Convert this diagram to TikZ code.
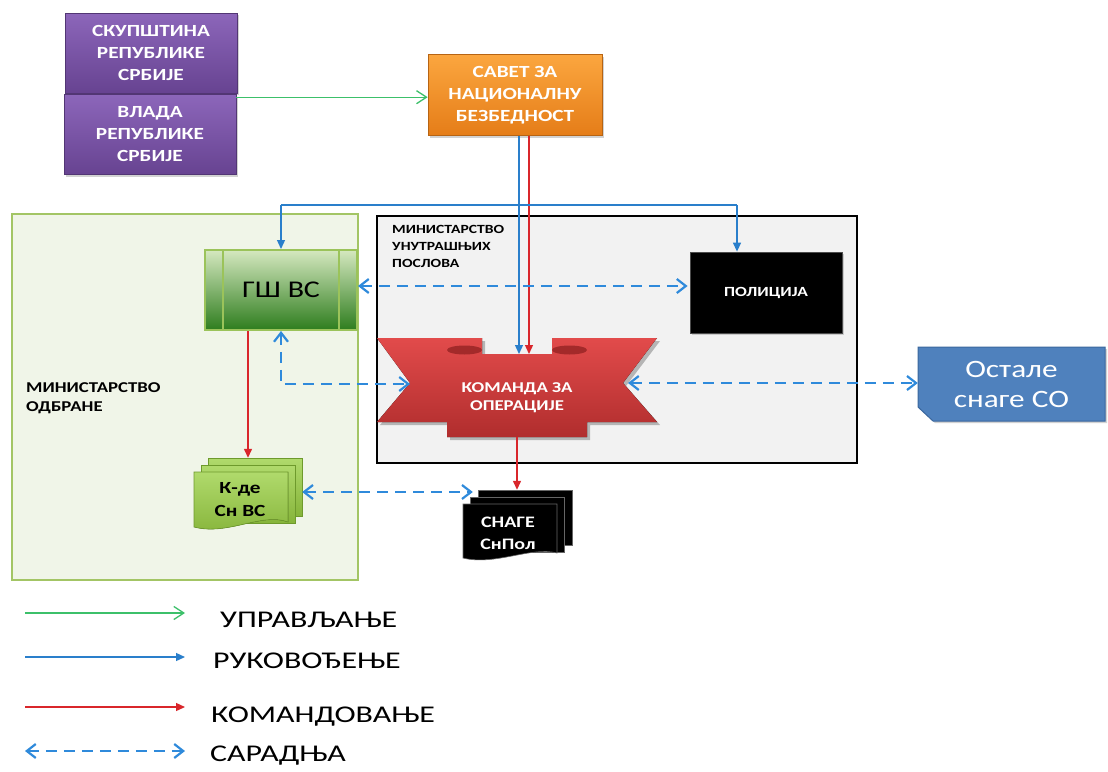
\documentclass[tikz,border=0pt]{standalone}
\usepackage{fontspec}
\setmainfont{Carlito}[FakeStretch=1.25]
\newfontfamily\legfont{Carlito}[FakeStretch=1.33]
\usetikzlibrary{arrows.meta,shadows,calc}
\definecolor{cgreen}{HTML}{3CC06A}
\definecolor{cblue}{HTML}{2A7FCB}
\definecolor{cdash}{HTML}{2F8ADB}
\definecolor{cred}{HTML}{D9262B}
\definecolor{purtop}{HTML}{8C66BA}
\definecolor{purbot}{HTML}{674391}
\definecolor{ortop}{HTML}{FBA63F}
\definecolor{orbot}{HTML}{E57D18}
\definecolor{gstop}{HTML}{D5E8BF}
\definecolor{gsbot}{HTML}{2E7D1E}
\definecolor{gsedge}{HTML}{9BC35A}
\definecolor{moedge}{HTML}{A3C565}
\definecolor{mofill}{HTML}{F0F5E8}
\definecolor{mupfill}{HTML}{F2F2F2}
\definecolor{komtop}{HTML}{E24B4B}
\definecolor{kombot}{HTML}{B02D2D}
\definecolor{komdark}{HTML}{A32A2A}
\definecolor{ostfill}{HTML}{4F81BD}
\definecolor{ostedge}{HTML}{3A679E}
\definecolor{kdetop}{HTML}{B0DA6C}
\definecolor{kdebot}{HTML}{86B43A}
\definecolor{kdeedge}{HTML}{6E9A2C}
\begin{document}
\begin{tikzpicture}[x=1pt,y=-1pt,
  shad/.style={drop shadow={shadow xshift=2pt,shadow yshift=-2pt,opacity=0.35}},
  pbox/.style={shad,draw=purbot!80!black,line width=0.6pt,top color=purtop,bottom color=purbot,
    minimum width=172pt,minimum height=80pt,text=white,align=center,
    font=\bfseries\fontsize{17}{22}\selectfont,inner sep=0pt},
  obox/.style={shad,draw=orbot!80!black,line width=0.6pt,top color=ortop,bottom color=orbot,
    minimum width=174pt,minimum height=81pt,text=white,align=center,
    font=\bfseries\fontsize{17}{22}\selectfont,inner sep=0pt},
  gsbox/.style={draw=gsedge,line width=2pt,top color=gstop,bottom color=gsbot,
    minimum width=152pt,minimum height=80pt,font=\fontsize{24}{28}\selectfont,inner sep=0pt},
  polbox/.style={shad,fill=black,draw=black!70,line width=0.8pt,minimum width=152pt,minimum height=81pt,
    text=white,font=\bfseries\fontsize{14}{18}\selectfont,inner sep=0pt},
  lab/.style={align=left,anchor=west,inner sep=0pt,font=\bfseries\fontsize{#1}{#1}\selectfont},
  komtext/.style={text=white,align=center,font=\bfseries\fontsize{15}{18}\selectfont,inner sep=0pt},
  kdestyle/.style={top color=kdetop,bottom color=kdebot,draw=kdeedge,line width=0.6pt},
  snstyle/.style={fill=black,draw=black!60,line width=0.6pt},
  ghost/.style={draw=none,inner sep=0pt},
  upr/.style={draw=cgreen,line width=1.3pt,-{Straight Barb[length=10pt,width=13pt]}},
  ruk/.style={draw=cblue,line width=1.3pt,-{Triangle[length=9pt,width=8pt]}},
  kmd/.style={draw=cred,line width=1.3pt,-{Triangle[length=9pt,width=8pt]}},
  sar/.style={draw=cdash,line width=2.2pt,dash pattern=on 11pt off 7pt,
    {Straight Barb[length=9pt,width=14pt]}-{Straight Barb[length=9pt,width=14pt]}},
  legtext/.style={anchor=base west,inner sep=0pt,font=\legfont\fontsize{24}{24}\selectfont}
]
\useasboundingbox (0,0) rectangle (1108,771);
\fill[white] (0,0) rectangle (1108,771);

% regions
\node[draw=moedge,fill=mofill,line width=2.5pt,minimum width=346pt,minimum height=366pt,inner sep=0pt] (mo) at (185,397) {};
\node[draw=black,fill=mupfill,line width=2.8pt,minimum width=480pt,minimum height=247pt,inner sep=0pt] (mup) at (617,339.5) {};
\node[lab=15] (molab) at (26,398) {МИНИСТАРСТВО\\[4pt]ОДБРАНЕ};
\node[lab=12.5] (muplab) at (392,246) {МИНИСТАРСТВО\\[4.5pt]УНУТРАШЊИХ\\[4.5pt]ПОСЛОВА};

% top boxes
\node[pbox] (skup) at (151,53) {СКУПШТИНА\\РЕПУБЛИКЕ\\СРБИЈЕ};
\node[pbox] (vlada) at (150,134.5) {ВЛАДА\\РЕПУБЛИКЕ\\СРБИЈЕ};
\node[obox] (savet) at (515,95) {САВЕТ ЗА\\НАЦИОНАЛНУ\\БЕЗБЕДНОСТ};

% GS VS
\node[gsbox] (gs) at (281,290) {ГШ ВС};
\draw[gsedge,line width=2pt] ($(gs.north west)+(19,0)$) -- ($(gs.south west)+(19,0)$);
\draw[gsedge,line width=2pt] ($(gs.north east)+(-19,0)$) -- ($(gs.south east)+(-19,0)$);

% Policija
\node[polbox] (pol) at (766,292.5) {ПОЛИЦИЈА};

% Komanda ribbon
\fill[black,opacity=0.25] (380,341) -- (485,341) -- (485,357) -- (555,357) -- (555,341) -- (660,341) -- (626,386)
  -- (660,425) -- (590,425) -- (590,440) -- (450,440) -- (450,425) -- (380,425) -- (413,386) -- cycle;
\fill[top color=komtop,bottom color=kombot]
  (377,338) -- (482,338) -- (482,354) -- (552,354) -- (552,338) -- (657,338) -- (623,383)
  -- (657,422) -- (587,422) -- (587,437) -- (447,437) -- (447,422) -- (377,422) -- (410,383) -- cycle;
\fill[komdark] (464.5,350) ellipse [x radius=17.5, y radius=4.5];
\fill[komdark] (569.5,350) ellipse [x radius=17.5, y radius=4.5];
\node[ghost,minimum width=280pt,minimum height=99pt] (kom) at (517,387.5) {};
\node[komtext] (komtxt) at (517,398) {КОМАНДА ЗА\\ОПЕРАЦИЈЕ};
\coordinate (komL) at (410,384);
\coordinate (komR) at (628,383);
\coordinate (komT) at (517,354);

% Ostale snage
\filldraw[shad,fill=ostfill,draw=ostedge,line width=1pt]
  (918,347) -- (1105,347) -- (1105,421) -- (933,421) -- (918,407) -- cycle;
\node[ghost,minimum width=187pt,minimum height=74pt,text=white,align=center,
  font=\fontsize{25}{30}\selectfont] (ost) at (1011.5,384) {Остале\\снаге СО};

% K-de Sn VS
\filldraw[kdestyle] (208,458) rectangle (302,516);
\filldraw[kdestyle] (201,465) rectangle (295,523);
\filldraw[kdestyle] (194,472) -- (288,472) -- (288,522) .. controls (262,512) and (228,536) .. (194,527) -- cycle;
\node[ghost,minimum width=108pt,minimum height=72pt] (kde) at (248,494) {};
\node[ghost,align=center,font=\bfseries\fontsize{17}{23}\selectfont] (kdetxt) at (240,500) {К-де\\Сн ВС};

% SNAGE SnPol
\filldraw[snstyle] (478,490) rectangle (572,545);
\filldraw[snstyle] (470,497) rectangle (564,552);
\filldraw[snstyle] (463,504) -- (557,504) -- (557,553) .. controls (532,546) and (495,566) .. (463,558) -- cycle;
\node[ghost,minimum width=94pt,minimum height=55pt] (snb) at (525,517.5) {};
\node[ghost,align=center,text=white,font=\bfseries\fontsize{16}{22}\selectfont] (sntxt) at (508,533) {СНАГЕ\\СнПол};

% connectors
\draw[upr] ([yshift=-3pt]vlada.north east) -- ([yshift=-3pt]vlada.north east -| savet.west);
\draw[ruk] ([xshift=4pt]savet.south) -- ([xshift=4pt]savet.south |- komT);
\draw[kmd] ([xshift=14pt]savet.south) -- ([xshift=14pt]savet.south |- komT);
\coordinate (b1) at (281,205);
\coordinate (b2) at (737,205);
\draw[cblue,line width=1.3pt] (b1) -- (b2);
\draw[ruk] (b1) -- (gs.north);
\draw[ruk] (b2) -- (b2 |- pol.north);
\draw[sar] ($(gs.east)+(0,-4)$) -- ($(gs.east -| pol.west)+(-2,-4)$);
\draw[sar] (gs.south) |- (komL);
\draw[sar] (komR) -- (komR -| ost.west);
\draw[kmd] (kde.north |- gs.south) -- (kde.north);
\draw[kmd] (kom.south) -- (kom.south |- snb.north);
\draw[sar] ($(kde.east)+(0,-2)$) -- ($(kde.east -| snb.west)+(-5,-2)$);

% legend
\coordinate (l1a) at (25,613); \coordinate (l1b) at (185,613);
\coordinate (l2a) at (25,657); \coordinate (l2b) at (185,657);
\coordinate (l3a) at (25,707); \coordinate (l3b) at (185,707);
\coordinate (l4a) at (25,751); \coordinate (l4b) at (185,751);
\draw[upr] (l1a) -- (l1b);
\draw[ruk] (l2a) -- (l2b);
\draw[kmd] (l3a) -- (l3b);
\draw[sar] (l4a) -- (l4b);
\node[legtext] (lg1) at (220,627) {УПРАВЉАЊЕ};
\node[legtext] (lg2) at (213,668) {РУКОВОЂЕЊЕ};
\node[legtext] (lg3) at (211,722) {КОМАНДОВАЊЕ};
\node[legtext] (lg4) at (210,761) {САРАДЊА};
\end{tikzpicture}
\end{document}
